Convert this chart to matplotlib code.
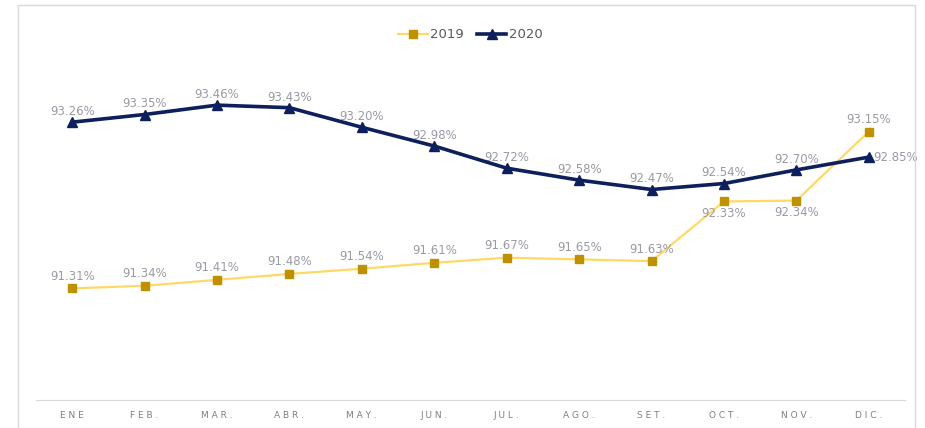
import matplotlib.pyplot as plt
from matplotlib.patches import Rectangle

months = ['ENE', 'FEB.', 'MAR.', 'ABR.', 'MAY.', 'JUN.', 'JUL.', 'AGO.', 'SET.', 'OCT.', 'NOV.', 'DIC.']
v2019 = [91.31, 91.34, 91.41, 91.48, 91.54, 91.61, 91.67, 91.65, 91.63, 92.33, 92.34, 93.15]
v2020 = [93.26, 93.35, 93.46, 93.43, 93.20, 92.98, 92.72, 92.58, 92.47, 92.54, 92.70, 92.85]

navy = '#0D1F5C'
gold_line = '#FFD966'
gold_mark = '#BF9000'
lbl = '#9A9AA6'

fig = plt.figure(figsize=(9.25, 4.28), dpi=100)
fig.patches.append(Rectangle((18 / 925, -0.01), 897 / 925, 1 - 5 / 428 + 0.01,
                             transform=fig.transFigure, fill=False,
                             edgecolor='#D9D9D9', linewidth=1))
ax = fig.add_axes([36 / 925, 28 / 428, 869 / 925, (400 - 16.5) / 428])

x = list(range(len(months)))
ax.plot(x, v2019, color=gold_line, linewidth=1.6, marker='s', markersize=6,
        markerfacecolor=gold_mark, markeredgecolor=gold_mark, label='2019', zorder=3)
ax.plot(x, v2020, color=navy, linewidth=2.6, marker='^', markersize=7,
        markerfacecolor=navy, markeredgecolor=navy, label='2020', zorder=4)

for i, v in enumerate(v2020):
    if i == len(v2020) - 1:
        ax.annotate(f'{v:.2f}%', (i, v), xytext=(3, 0), textcoords='offset points',
                    ha='left', va='center', fontsize=8.5, color=lbl)
    else:
        ax.annotate(f'{v:.2f}%', (i, v), xytext=(0, 3), textcoords='offset points',
                    ha='center', va='bottom', fontsize=8.5, color=lbl)

for i, v in enumerate(v2019):
    if months[i] in ('OCT.', 'NOV.'):
        ax.annotate(f'{v:.2f}%', (i, v), xytext=(0, -4), textcoords='offset points',
                    ha='center', va='top', fontsize=8.5, color=lbl)
    else:
        ax.annotate(f'{v:.2f}%', (i, v), xytext=(0, 4), textcoords='offset points',
                    ha='center', va='bottom', fontsize=8.5, color=lbl)

ax.set_xlim(-0.5, len(months) - 0.5)
ax.set_ylim(90, 94.5)
ax.set_xticks(x)
ax.set_xticklabels([' '.join(m) for m in months], fontsize=6.5, color='#7F7F7F')
ax.tick_params(axis='x', length=0, pad=8)
ax.set_yticks([])
for s in ('top', 'right', 'left'):
    ax.spines[s].set_visible(False)
ax.spines['bottom'].set_color('#D9D9D9')

ax.legend(loc='upper center', bbox_to_anchor=(0.5, 1.0), ncol=2, frameon=False,
          fontsize=9.5, labelcolor='#595959', handlelength=2.2, columnspacing=1.0,
          handletextpad=0.2)

fig.savefig('out.png', dpi=100)
